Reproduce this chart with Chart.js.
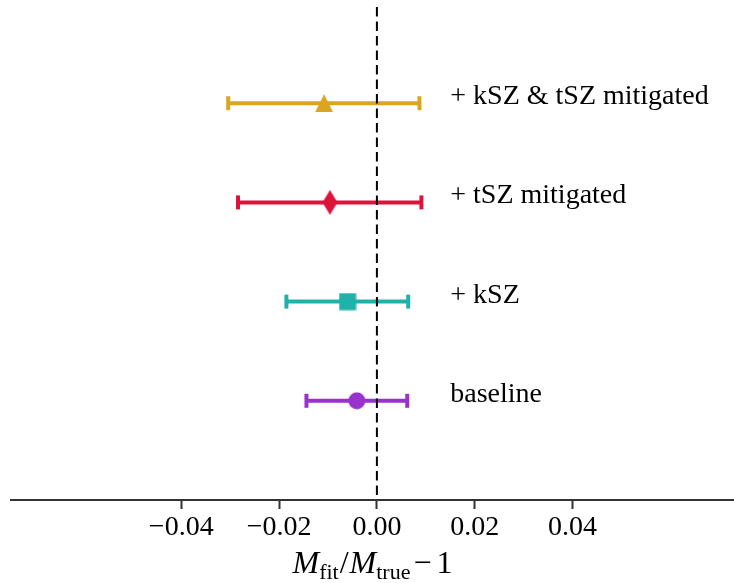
<!DOCTYPE html>
<html lang="en">
<head>
    <meta charset="UTF-8">
    <title>Mass bias</title>
    <script src="https://cdn.jsdelivr.net/npm/chart.js"></script>
    <style>
        body {
            margin: 0;
            padding: 0;
            background: white;
        }
        .chart-container {
            width: 734px;
            height: 583px;
        }
    </style>
</head>
<body>
    <div class="chart-container">
        <canvas id="biasChart"></canvas>
    </div>

    <script>
        // data
        const labels = ['baseline', '+ kSZ', '+ tSZ mitigated', '+ kSZ & tSZ mitigated'];
        const rows = [0, 1, 2, 3];
        const centers = [-0.0041, -0.0060, -0.0096, -0.0108];
        const lowers = [-0.0144, -0.0185, -0.0284, -0.0304];
        const uppers = [0.0062, 0.0064, 0.0091, 0.0087];
        const xTicks = [-0.04, -0.02, 0.00, 0.02, 0.04];

        const colors = ['#9932CC', '#20B2AA', '#DC143C', '#DAA520'];
        const shapes = ['circle', 'square', 'thinDiamond', 'triangle'];

        const serif = "'Liberation Serif', 'DejaVu Serif', serif";

        function makeMarker(shape, color) {
            const c = document.createElement('canvas');
            let w = 18, h = 18;
            if (shape === 'thinDiamond') { w = 15; h = 25; }
            c.width = w;
            c.height = h;
            const g = c.getContext('2d');
            g.fillStyle = color;
            g.beginPath();
            if (shape === 'circle') {
                g.arc(w / 2, h / 2, 8.5, 0, Math.PI * 2);
            } else if (shape === 'square') {
                g.rect(0.5, 0.5, 17, 17);
            } else if (shape === 'thinDiamond') {
                g.moveTo(w / 2, 0);
                g.lineTo(w, h / 2);
                g.lineTo(w / 2, h);
                g.lineTo(0, h / 2);
            } else {
                g.moveTo(w / 2, 0);
                g.lineTo(w, h);
                g.lineTo(0, h);
            }
            g.closePath();
            g.fill();
            return c;
        }

        const datasets = [];
        rows.forEach((y, i) => {
            datasets.push({
                label: labels[i] + ' err',
                data: [{x: lowers[i], y: y}, {x: uppers[i], y: y}],
                showLine: true,
                borderColor: colors[i],
                borderWidth: 4,
                pointStyle: 'line',
                pointRotation: 90,
                pointRadius: 7,
                pointBorderWidth: 4,
                pointBorderColor: colors[i],
                order: 3
            });
            datasets.push({
                label: labels[i],
                data: [{x: centers[i], y: y}],
                showLine: false,
                pointStyle: makeMarker(shapes[i], colors[i]),
                pointRadius: 9,
                order: 2
            });
        });
        datasets.push({
            label: 'zero',
            data: [{x: 0, y: 3.97}, {x: 0, y: -1}],
            showLine: true,
            borderColor: '#000',
            borderWidth: 2,
            borderDash: [9.5, 5],
            pointRadius: 0,
            order: 1
        });

        const textPlugin = {
            id: 'rowText',
            afterDatasetsDraw(chart) {
                const ctx = chart.ctx;
                const xs = chart.scales.x, ys = chart.scales.y;
                ctx.save();
                ctx.fillStyle = '#000';
                ctx.font = '28px ' + serif;
                ctx.textBaseline = 'alphabetic';
                ctx.textAlign = 'left';
                rows.forEach((y, i) => {
                    ctx.fillText(labels[i], xs.getPixelForValue(0.015), ys.getPixelForValue(y) + 1);
                });
                ctx.restore();
            },
            afterDraw(chart) {
                // axis title: M_fit / M_true - 1
                const ctx = chart.ctx;
                const area = chart.chartArea;
                const big = 32, small = 22;
                const parts = [
                    {t: 'M', f: 'italic ' + big + 'px ' + serif, dy: 0, gap: 0},
                    {t: 'fit', f: small + 'px ' + serif, dy: 6, gap: 0},
                    {t: '/', f: big + 'px ' + serif, dy: 0, gap: 1},
                    {t: 'M', f: 'italic ' + big + 'px ' + serif, dy: 0, gap: 1},
                    {t: 'true', f: small + 'px ' + serif, dy: 6, gap: 0},
                    {t: '\u2212', f: big + 'px ' + serif, dy: 0, gap: 3},
                    {t: '1', f: big + 'px ' + serif, dy: 0, gap: 5}
                ];
                ctx.save();
                ctx.fillStyle = '#000';
                ctx.textBaseline = 'alphabetic';
                ctx.textAlign = 'left';
                let total = 0;
                parts.forEach(p => {
                    ctx.font = p.f;
                    p.w = ctx.measureText(p.t).width;
                    total += p.gap + p.w;
                });
                let x = (area.left + area.right) / 2 - total / 2;
                const base = 573;
                parts.forEach(p => {
                    x += p.gap;
                    ctx.font = p.f;
                    ctx.fillText(p.t, x, base + p.dy);
                    x += p.w;
                });
                ctx.restore();
            }
        };

        const ctx = document.getElementById('biasChart').getContext('2d');
        new Chart(ctx, {
            type: 'scatter',
            data: {datasets: datasets},
            options: {
                responsive: true,
                maintainAspectRatio: false,
                animation: false,
                layout: {autoPadding: false, padding: {left: 11, right: 0, top: 7, bottom: 0}},
                plugins: {
                    legend: {display: false},
                    tooltip: {enabled: false}
                },
                scales: {
                    x: {
                        type: 'linear',
                        min: -0.0748,
                        max: 0.0730,
                        afterBuildTicks: (scale) => {
                            scale.ticks = xTicks.map(v => ({value: v}));
                        },
                        afterFit: (scale) => {
                            scale.height = 83;
                        },
                        grid: {
                            display: true,
                            drawOnChartArea: false,
                            drawTicks: true,
                            tickLength: 9,
                            tickWidth: 2,
                            tickColor: '#333'
                        },
                        border: {display: true, color: '#333', width: 2},
                        ticks: {
                            color: '#000',
                            padding: 2,
                            maxRotation: 0,
                            font: {family: serif, size: 28},
                            callback: (v) => (v < 0 ? '\u2212' : '') + Math.abs(v).toFixed(2)
                        }
                    },
                    y: {
                        type: 'linear',
                        display: false,
                        min: -1,
                        max: 3.97
                    }
                }
            },
            plugins: [textPlugin]
        });
    </script>
</body>
</html>
